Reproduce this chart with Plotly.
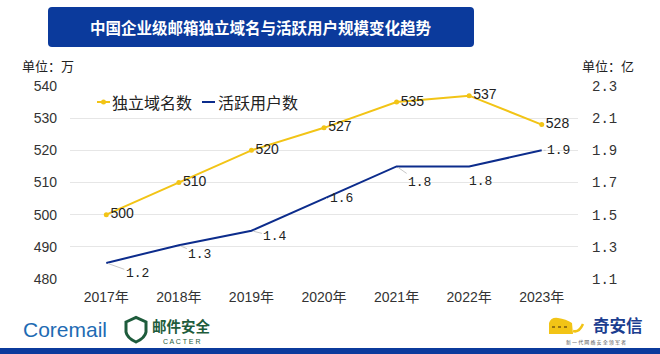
import plotly.graph_objects as go

# ---- data ----
years = ["2017年", "2018年", "2019年", "2020年", "2021年", "2022年", "2023年"]
domains = [500, 510, 520, 527, 535, 537, 528]          # 独立域名数 (万)
users = [1.2, 1.31, 1.4, 1.6, 1.8, 1.8, 1.9]           # 活跃用户数 (亿)
user_labels = ["1.2", "1.3", "1.4", "1.6", "1.8", "1.8", "1.9"]
left_ticks = [480, 490, 500, 510, 520, 530, 540]
right_ticks = [1.1, 1.3, 1.5, 1.7, 1.9, 2.1, 2.3]

# ---- style ----
W, H = 660, 354
L, R, T, B = 70, 82, 86, 75
PW, PH = W - L - R, H - T - B
YELLOW = "#F2C416"
BLUE = "#0C2C8C"
NAVY = "#0B3A9C"
CJK = "Noto Sans CJK SC"
SANS = "Liberation Sans, Noto Sans CJK SC"
MONO = "Liberation Mono, DejaVu Sans Mono"
label_offsets = [(31, 11), (21, 9), (24, 6), (17, 0), (23, 16), (11, 15), (17, 0)]


def px(x):
    return (x - L) / PW


def py(y):
    return (H - B - y) / PH


def txt(x, y, text, size, color, family=CJK, xanchor="left"):
    return dict(x=px(x), y=py(y), xref="paper", yref="paper", showarrow=False,
                xanchor=xanchor, yanchor="middle", text=text,
                font=dict(family=family, size=size, color=color))


fig = go.Figure()
fig.add_trace(go.Scatter(
    x=years, y=domains, mode="lines+markers+text", name="独立域名数",
    line=dict(color=YELLOW, width=2), marker=dict(color=YELLOW, size=5),
    text=[str(v) for v in domains], textposition="middle right",
    textfont=dict(family=SANS, size=14, color="#222"), cliponaxis=False,
    showlegend=False))
fig.add_trace(go.Scatter(
    x=years, y=users, mode="lines", name="活跃用户数", yaxis="y2",
    line=dict(color=BLUE, width=2), showlegend=False))

ann = []
for yr, v, lab, (ax, ay) in zip(years, users, user_labels, label_offsets):
    ann.append(dict(x=yr, y=v, xref="x", yref="y2", text=lab, showarrow=True,
                    arrowhead=0, arrowwidth=1, arrowcolor="#c8c8c8", ax=ax, ay=ay,
                    standoff=2, font=dict(family=MONO, size=13, color="#222")))

# title
ann.append(txt(261, 27, "<b>中国企业级邮箱独立域名与活跃用户规模变化趋势</b>", 15.5, "white",
               xanchor="center"))
# units
ann.append(txt(20, 65, "单位：万", 13, "#222"))
ann.append(txt(580, 65, "单位：亿", 13, "#222"))
# legend (manual)
ann.append(txt(110, 102, "独立域名数", 16, "#222"))
ann.append(txt(216, 102, "活跃用户数", 16, "#222"))
# logos
ann.append(txt(21, 329, "Coremail", 21, "#1E6BB3", family="Liberation Sans"))
ann.append(txt(150, 325.5, "<b>邮件安全</b>", 14.5, "#1E5C3C"))
ann.append(txt(181, 341, "C A C T E R", 7, "#1E5C3C", family="Liberation Sans",
               xanchor="center"))
ann.append(txt(591, 325, "<b>奇安信</b>", 16.5, "#1B3D8F"))
ann.append(txt(596, 341.5, "新 一 代 网 络 安 全 领 军 者", 5, "#555", xanchor="center"))

shapes = []
# title box with rounded corners
x0, x1, y0, y1, r = 48, 474, 7, 47, 4
path = (f"M{px(x0 + r)},{py(y0)} L{px(x1 - r)},{py(y0)} Q{px(x1)},{py(y0)} {px(x1)},{py(y0 + r)} "
        f"L{px(x1)},{py(y1 - r)} Q{px(x1)},{py(y1)} {px(x1 - r)},{py(y1)} "
        f"L{px(x0 + r)},{py(y1)} Q{px(x0)},{py(y1)} {px(x0)},{py(y1 - r)} "
        f"L{px(x0)},{py(y0 + r)} Q{px(x0)},{py(y0)} {px(x0 + r)},{py(y0)} Z")
shapes.append(dict(type="path", xref="paper", yref="paper", path=path,
                   fillcolor=NAVY, line=dict(width=0), layer="below"))
# legend symbols
shapes.append(dict(type="line", xref="paper", yref="paper", x0=px(97), x1=px(110),
                   y0=py(102), y1=py(102), line=dict(color=YELLOW, width=2)))
shapes.append(dict(type="circle", xref="paper", yref="paper", x0=px(101), x1=px(106),
                   y0=py(104.5), y1=py(99.5), fillcolor=YELLOW, line=dict(width=0)))
shapes.append(dict(type="line", xref="paper", yref="paper", x0=px(202), x1=px(215),
                   y0=py(102), y1=py(102), line=dict(color=BLUE, width=2)))
# shield logo
sp = (f"M{px(126)},{py(322)} L{px(136)},{py(317.5)} L{px(146)},{py(322)} L{px(146)},{py(332)} "
      f"Q{px(145)},{py(338)} {px(136)},{py(342)} Q{px(127)},{py(338)} {px(126)},{py(332)} Z")
shapes.append(dict(type="path", xref="paper", yref="paper", path=sp,
                   fillcolor="white", line=dict(color="#1E5C3C", width=3)))
# lion logo (simplified)
lp = (f"M{px(549)},{py(334)} L{px(549)},{py(323)} Q{px(551)},{py(317)} {px(558)},{py(318)} "
      f"Q{px(566)},{py(319)} {px(572)},{py(323)} L{px(573)},{py(334)} Z")
shapes.append(dict(type="path", xref="paper", yref="paper", path=lp,
                   fillcolor="#F2C416", line=dict(width=0)))
tail = (f"M{px(573)},{py(331)} Q{px(579)},{py(333)} {px(583)},{py(324)}")
shapes.append(dict(type="path", xref="paper", yref="paper", path=tail,
                   line=dict(color="#F2C416", width=2.5)))
shapes.append(dict(type="line", xref="paper", yref="paper", x0=px(552), x1=px(570),
                   y0=py(327), y1=py(327), line=dict(color="#7A5A10", width=1.5, dash="dot")))
# bottom bar
shapes.append(dict(type="rect", xref="paper", yref="paper", x0=px(0), x1=px(W),
                   y0=py(H), y1=py(348), fillcolor=NAVY, line=dict(width=0)))

fig.update_layout(
    width=W, height=H, margin=dict(l=L, r=R, t=T, b=B),
    paper_bgcolor="white", plot_bgcolor="white",
    showlegend=False, annotations=ann, shapes=shapes,
    xaxis=dict(type="category", range=[-0.5, 6.5], showgrid=False, showline=False,
               ticks="", tickfont=dict(family=SANS, size=14, color="#333"),
               ticklabelstandoff=8),
    yaxis=dict(range=[480, 540], tickvals=left_ticks, showgrid=True, gridcolor="#E6E6E6",
               gridwidth=1, zeroline=False, showline=False, ticks="",
               tickfont=dict(family=SANS, size=14, color="#333"), ticklabelstandoff=12),
    yaxis2=dict(range=[1.1, 2.3], tickvals=right_ticks, tickformat=".1f", overlaying="y",
                side="right", showgrid=False, zeroline=False, showline=False, ticks="",
                tickfont=dict(family=MONO, size=14, color="#333"), ticklabelstandoff=13),
)

fig.write_html("out.html")
